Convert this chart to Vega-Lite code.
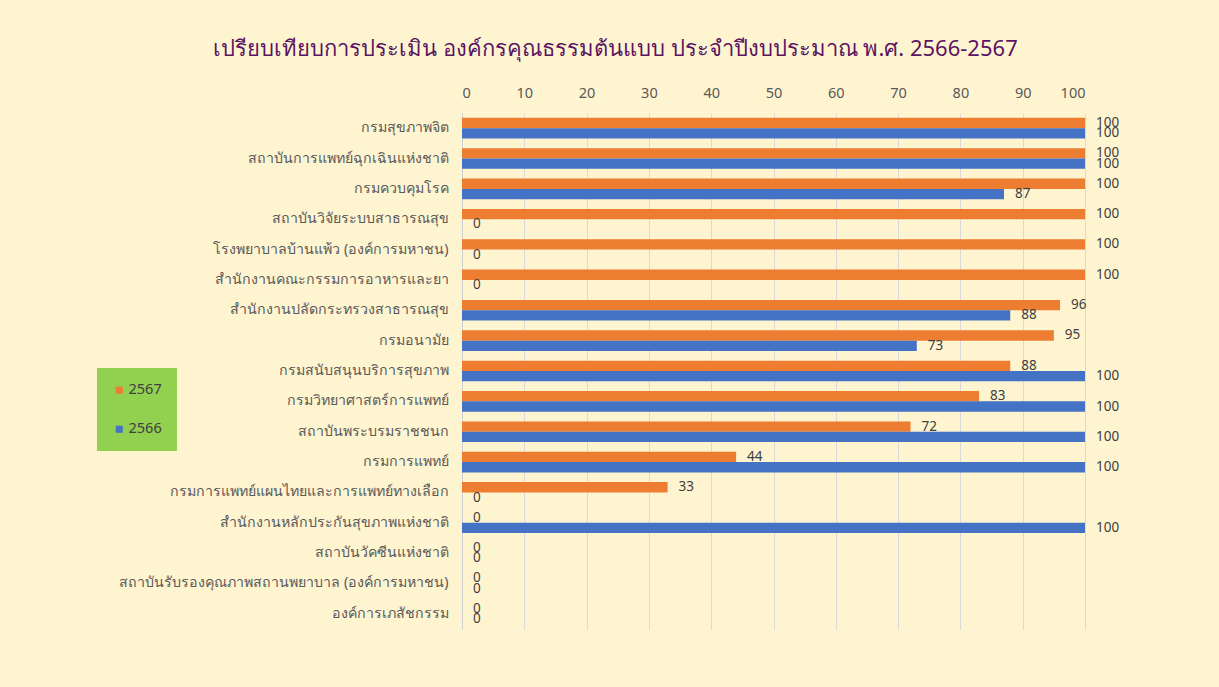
{
  "$schema": "https://vega.github.io/schema/vega-lite/v6.json",
  "width": 623,
  "height": 516,
  "autosize": {"type": "none"},
  "padding": {"left": 462, "top": 113, "right": 134, "bottom": 58},
  "background": "#fff4d0",
  "title": {
    "text": "เปรียบเทียบการประเมิน องค์กรคุณธรรมต้นแบบ ประจำปีงบประมาณ พ.ศ. 2566-2567",
    "font": "Noto Sans",
    "fontSize": 22,
    "fontWeight": "normal",
    "color": "#5a1463",
    "anchor": "middle",
    "dx": -158,
    "offset": 24
  },
  "config": {
    "view": {"stroke": null},
    "font": "Noto Sans"
  },
  "data": {
    "values": [
      {"org": "กรมสุขภาพจิต", "year": "2567", "score": 100},
      {"org": "กรมสุขภาพจิต", "year": "2566", "score": 100},
      {"org": "สถาบันการแพทย์ฉุกเฉินแห่งชาติ", "year": "2567", "score": 100},
      {"org": "สถาบันการแพทย์ฉุกเฉินแห่งชาติ", "year": "2566", "score": 100},
      {"org": "กรมควบคุมโรค", "year": "2567", "score": 100},
      {"org": "กรมควบคุมโรค", "year": "2566", "score": 87},
      {"org": "สถาบันวิจัยระบบสาธารณสุข", "year": "2567", "score": 100},
      {"org": "สถาบันวิจัยระบบสาธารณสุข", "year": "2566", "score": 0},
      {"org": "โรงพยาบาลบ้านแพ้ว (องค์การมหาชน)", "year": "2567", "score": 100},
      {"org": "โรงพยาบาลบ้านแพ้ว (องค์การมหาชน)", "year": "2566", "score": 0},
      {"org": "สำนักงานคณะกรรมการอาหารและยา", "year": "2567", "score": 100},
      {"org": "สำนักงานคณะกรรมการอาหารและยา", "year": "2566", "score": 0},
      {"org": "สำนักงานปลัดกระทรวงสาธารณสุข", "year": "2567", "score": 96},
      {"org": "สำนักงานปลัดกระทรวงสาธารณสุข", "year": "2566", "score": 88},
      {"org": "กรมอนามัย", "year": "2567", "score": 95},
      {"org": "กรมอนามัย", "year": "2566", "score": 73},
      {"org": "กรมสนับสนุนบริการสุขภาพ", "year": "2567", "score": 88},
      {"org": "กรมสนับสนุนบริการสุขภาพ", "year": "2566", "score": 100},
      {"org": "กรมวิทยาศาสตร์การแพทย์", "year": "2567", "score": 83},
      {"org": "กรมวิทยาศาสตร์การแพทย์", "year": "2566", "score": 100},
      {"org": "สถาบันพระบรมราชชนก", "year": "2567", "score": 72},
      {"org": "สถาบันพระบรมราชชนก", "year": "2566", "score": 100},
      {"org": "กรมการแพทย์", "year": "2567", "score": 44},
      {"org": "กรมการแพทย์", "year": "2566", "score": 100},
      {"org": "กรมการแพทย์แผนไทยและการแพทย์ทางเลือก", "year": "2567", "score": 33},
      {"org": "กรมการแพทย์แผนไทยและการแพทย์ทางเลือก", "year": "2566", "score": 0},
      {"org": "สำนักงานหลักประกันสุขภาพแห่งชาติ", "year": "2567", "score": 0},
      {"org": "สำนักงานหลักประกันสุขภาพแห่งชาติ", "year": "2566", "score": 100},
      {"org": "สถาบันวัคซีนแห่งชาติ", "year": "2567", "score": 0},
      {"org": "สถาบันวัคซีนแห่งชาติ", "year": "2566", "score": 0},
      {"org": "สถาบันรับรองคุณภาพสถานพยาบาล (องค์การมหาชน)", "year": "2567", "score": 0},
      {"org": "สถาบันรับรองคุณภาพสถานพยาบาล (องค์การมหาชน)", "year": "2566", "score": 0},
      {"org": "องค์การเภสัชกรรม", "year": "2567", "score": 0},
      {"org": "องค์การเภสัชกรรม", "year": "2566", "score": 0}
    ]
  },
  "encoding": {
    "y": {
      "field": "org",
      "type": "nominal",
      "sort": null,
      "title": null,
      "scale": {"paddingInner": 0.32, "paddingOuter": 0.16},
      "axis": {
        "labelFontSize": 14.2,
        "labelColor": "#595959",
        "labelPadding": 14,
        "labelLimit": 0,
        "ticks": false,
        "domainColor": "#d0d0d0",
        "domainWidth": 1
      }
    },
    "yOffset": {
      "field": "year",
      "type": "nominal",
      "scale": {"domain": ["2567", "2566"]}
    },
    "x": {
      "field": "score",
      "type": "quantitative",
      "title": null,
      "scale": {"domain": [0, 100], "nice": false},
      "axis": {
        "orient": "top",
        "values": [0, 10, 20, 30, 40, 50, 60, 70, 80, 90, 100],
        "labelFontSize": 14.5,
        "labelColor": "#595959",
        "labelPadding": 13,
        "ticks": false,
        "domain": false,
        "gridColor": "#d9d9d9",
        "gridWidth": 1
      }
    }
  },
  "layer": [
    {
      "mark": {"type": "bar"},
      "encoding": {
        "color": {
          "field": "year",
          "type": "nominal",
          "scale": {"domain": ["2567", "2566"], "range": ["#ed7d31", "#4472c4"]},
          "legend": {
            "title": null,
            "orient": "none",
            "legendX": -365,
            "legendY": 255,
            "fillColor": "#92d050",
            "padding": 15,
            "rowPadding": 24,
            "symbolType": "square",
            "symbolSize": 50,
            "labelFontSize": 14.5,
            "labelColor": "#404040",
            "labelOffset": 2
          }
        }
      }
    },
    {
      "mark": {"type": "text", "align": "left", "dx": 11, "fontSize": 13.5, "color": "#404040"},
      "encoding": {
        "text": {"field": "score", "type": "quantitative"}
      }
    }
  ]
}
